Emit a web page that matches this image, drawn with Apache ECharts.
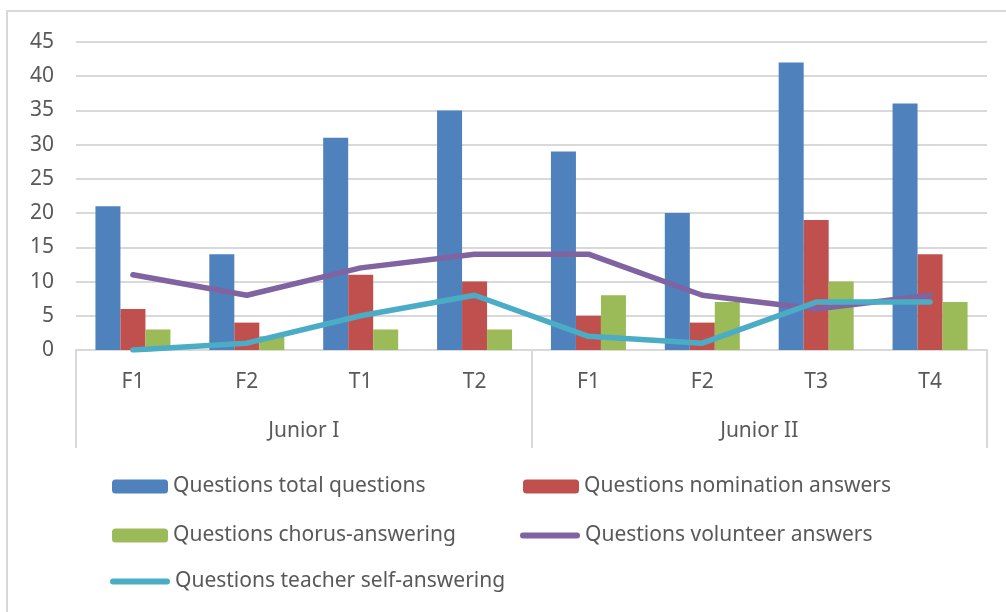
<!DOCTYPE html>
<html><head><meta charset="utf-8">
<script src="https://cdn.jsdelivr.net/npm/echarts@6/dist/echarts.min.js"></script>
<style>html,body{margin:0;padding:0;background:#fff}#c{width:1006px;height:612px}</style>
</head><body><div id="c"></div>
<script>
const categories = ['F1','F2','T1','T2','F1','F2','T3','T4'];
const groups = ['Junior I','Junior II'];
const seriesNames = ['Questions total questions','Questions nomination answers','Questions chorus-answering','Questions volunteer answers','Questions teacher self-answering'];
const totalQ = [21,14,31,35,29,20,42,36];
const nomination = [6,4,11,10,5,4,19,14];
const chorus = [3,2,3,3,8,7,10,7];
const volunteer = [11,8,12,14,14,8,6,8];
const teacherSelf = [0,1,5,8,2,1,7,7];
const yTicks = {min:0,max:45,interval:5};

const font = 'Noto Sans';
const txt = '#595959';
const line = '#d9d9d9';
const chart = echarts.init(document.getElementById('c'));
const legendBase = {itemWidth:56,itemHeight:14,padding:0,textStyle:{fontFamily:font,fontSize:21,color:txt},itemGap:0,selectedMode:false};
const lineIcon = 'path://M3,0 L57,0 A3,3 0 0 1 57,6 L3,6 A3,3 0 0 1 3,0 Z';
chart.setOption({
  animation:false,
  color:['#4f81bd','#c0504d','#9bbb59','#8064a2','#4bacc6'],
  graphic:[{type:'rect',shape:{x:7,y:11,width:1010,height:610},style:{fill:'none',stroke:line,lineWidth:2},silent:true}],
  grid:{left:76,right:19,top:42,bottom:262},
  legend:[
    Object.assign({},legendBase,{data:[seriesNames[0]],left:112,top:476}),
    Object.assign({},legendBase,{data:[seriesNames[1]],left:523,top:476}),
    Object.assign({},legendBase,{data:[seriesNames[2]],left:112,top:525}),
    Object.assign({},legendBase,{data:[{name:seriesNames[3],icon:lineIcon}],left:520,top:525,itemWidth:60,itemHeight:7}),
    Object.assign({},legendBase,{data:[{name:seriesNames[4],icon:lineIcon}],left:110,top:571,itemWidth:60,itemHeight:7})
  ],
  xAxis:[
    {type:'category',data:categories,position:'bottom',
     axisLine:{lineStyle:{color:line,width:2}},axisTick:{show:false},
     axisLabel:{margin:22,fontFamily:font,fontSize:21,color:txt}},
    {type:'category',data:groups,position:'bottom',
     axisLine:{show:false},
     axisTick:{show:true,length:98,lineStyle:{color:line,width:2}},
     axisLabel:{margin:71,fontFamily:font,fontSize:21,color:txt}}
  ],
  yAxis:{type:'value',min:yTicks.min,max:yTicks.max,interval:yTicks.interval,
    axisLine:{show:false},axisTick:{show:false},
    splitLine:{lineStyle:{color:line,width:2}},
    axisLabel:{margin:22,fontFamily:font,fontSize:21,color:txt}},
  series:[
    {name:seriesNames[0],type:'bar',data:totalQ,barWidth:25,barGap:'0%'},
    {name:seriesNames[1],type:'bar',data:nomination,barWidth:25,barGap:'0%'},
    {name:seriesNames[2],type:'bar',data:chorus,barWidth:25,barGap:'0%'},
    {name:seriesNames[3],type:'line',data:volunteer,symbol:'none',lineStyle:{width:5.5,cap:'round',join:'round'}},
    {name:seriesNames[4],type:'line',data:teacherSelf,symbol:'none',lineStyle:{width:5.5,cap:'round',join:'round'}}
  ]
});
</script></body></html>
